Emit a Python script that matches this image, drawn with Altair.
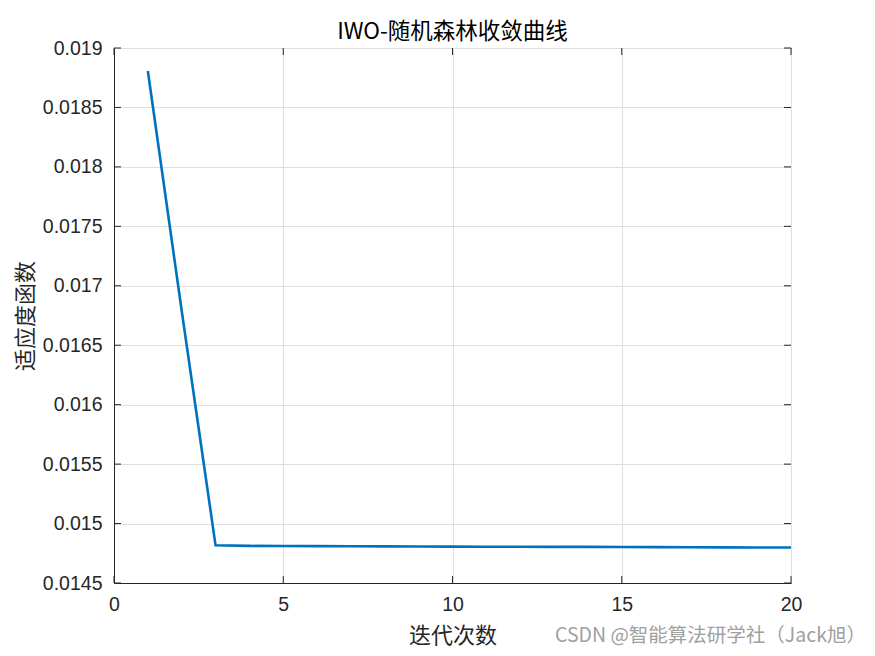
import altair as alt
import pandas as pd

iterations = list(range(1, 21))
fitness = [0.018807, 0.016790, 0.014817, 0.014812, 0.014811, 0.014810, 0.014809,
           0.014808, 0.014807, 0.014806, 0.014805, 0.014805, 0.014804, 0.014804,
           0.014803, 0.014802, 0.014801, 0.014800, 0.014799, 0.014798]
x_ticks = [0, 5, 10, 15, 20]
y_ticks = [0.0145, 0.015, 0.0155, 0.016, 0.0165, 0.017, 0.0175, 0.018, 0.0185, 0.019]

W, H = 677, 535
df = pd.DataFrame({"iter": iterations, "fit": fitness})
dx = pd.DataFrame({"t": x_ticks})
dy = pd.DataFrame({"t": y_ticks})

xs = alt.Scale(domain=[0, 20], nice=False)
ys = alt.Scale(domain=[0.0145, 0.019], nice=False, zero=False)

line = alt.Chart(df).mark_line(color="#0072BD", strokeWidth=2.6, clip=True).encode(
    x=alt.X("iter:Q", scale=xs, axis=alt.Axis(
        values=x_ticks, title="迭代次数", grid=True, gridColor="#dfdfdf",
        domainColor="#262626", tickSize=0, labelFont="Liberation Sans",
        labelFontSize=19.5, labelColor="#262626", labelPadding=12, format="~g",
        labelFlush=False,
        titleFont="Noto Sans CJK SC", titleFontSize=22, titleFontWeight="normal",
        titleColor="#262626", titlePadding=12)),
    y=alt.Y("fit:Q", scale=ys, axis=alt.Axis(
        values=y_ticks, title="适应度函数", grid=True, gridColor="#dfdfdf",
        domainColor="#262626", tickSize=0, labelFont="Liberation Sans",
        labelFontSize=19.5, labelColor="#262626", labelPadding=12, format="~g",
        labelFlush=False,
        titleFont="Noto Sans CJK SC", titleFontSize=22, titleFontWeight="normal",
        titleColor="#262626", titlePadding=5)),
)

tick_style = dict(color="#262626", strokeWidth=1)
xb = alt.Chart(dx).mark_rule(**tick_style).encode(x=alt.X("t:Q", scale=xs), y=alt.value(H), y2=alt.value(H - 7))
xt = alt.Chart(dx).mark_rule(**tick_style).encode(x=alt.X("t:Q", scale=xs), y=alt.value(0), y2=alt.value(7))
yl = alt.Chart(dy).mark_rule(**tick_style).encode(y=alt.Y("t:Q", scale=ys), x=alt.value(0), x2=alt.value(7))
yr = alt.Chart(dy).mark_rule(**tick_style).encode(y=alt.Y("t:Q", scale=ys), x=alt.value(W), x2=alt.value(W - 7))

wm = alt.Chart(pd.DataFrame({"s": ["CSDN @智能算法研学社（Jack旭）"]})).mark_text(
    align="right", baseline="middle", font="Noto Sans CJK SC", fontSize=19.5, color="#a0a0a0"
).encode(text="s:N", x=alt.value(W + 75), y=alt.value(H + 53))

chart = alt.layer(line, xb, xt, yl, yr, wm).properties(
    width=W, height=H,
    background="white",
    title=alt.TitleParams("IWO-随机森林收敛曲线", font="Noto Sans CJK SC", fontSize=22.5,
                          fontWeight="normal", color="#000000", offset=-5),
    autosize=alt.AutoSizeParams(type="none"),
    padding={"left": 106, "top": 40, "right": 76, "bottom": 65},
).configure_view(stroke="#262626", strokeWidth=1)

chart.save("out.html", embed_options={"renderer": "svg", "actions": False})
